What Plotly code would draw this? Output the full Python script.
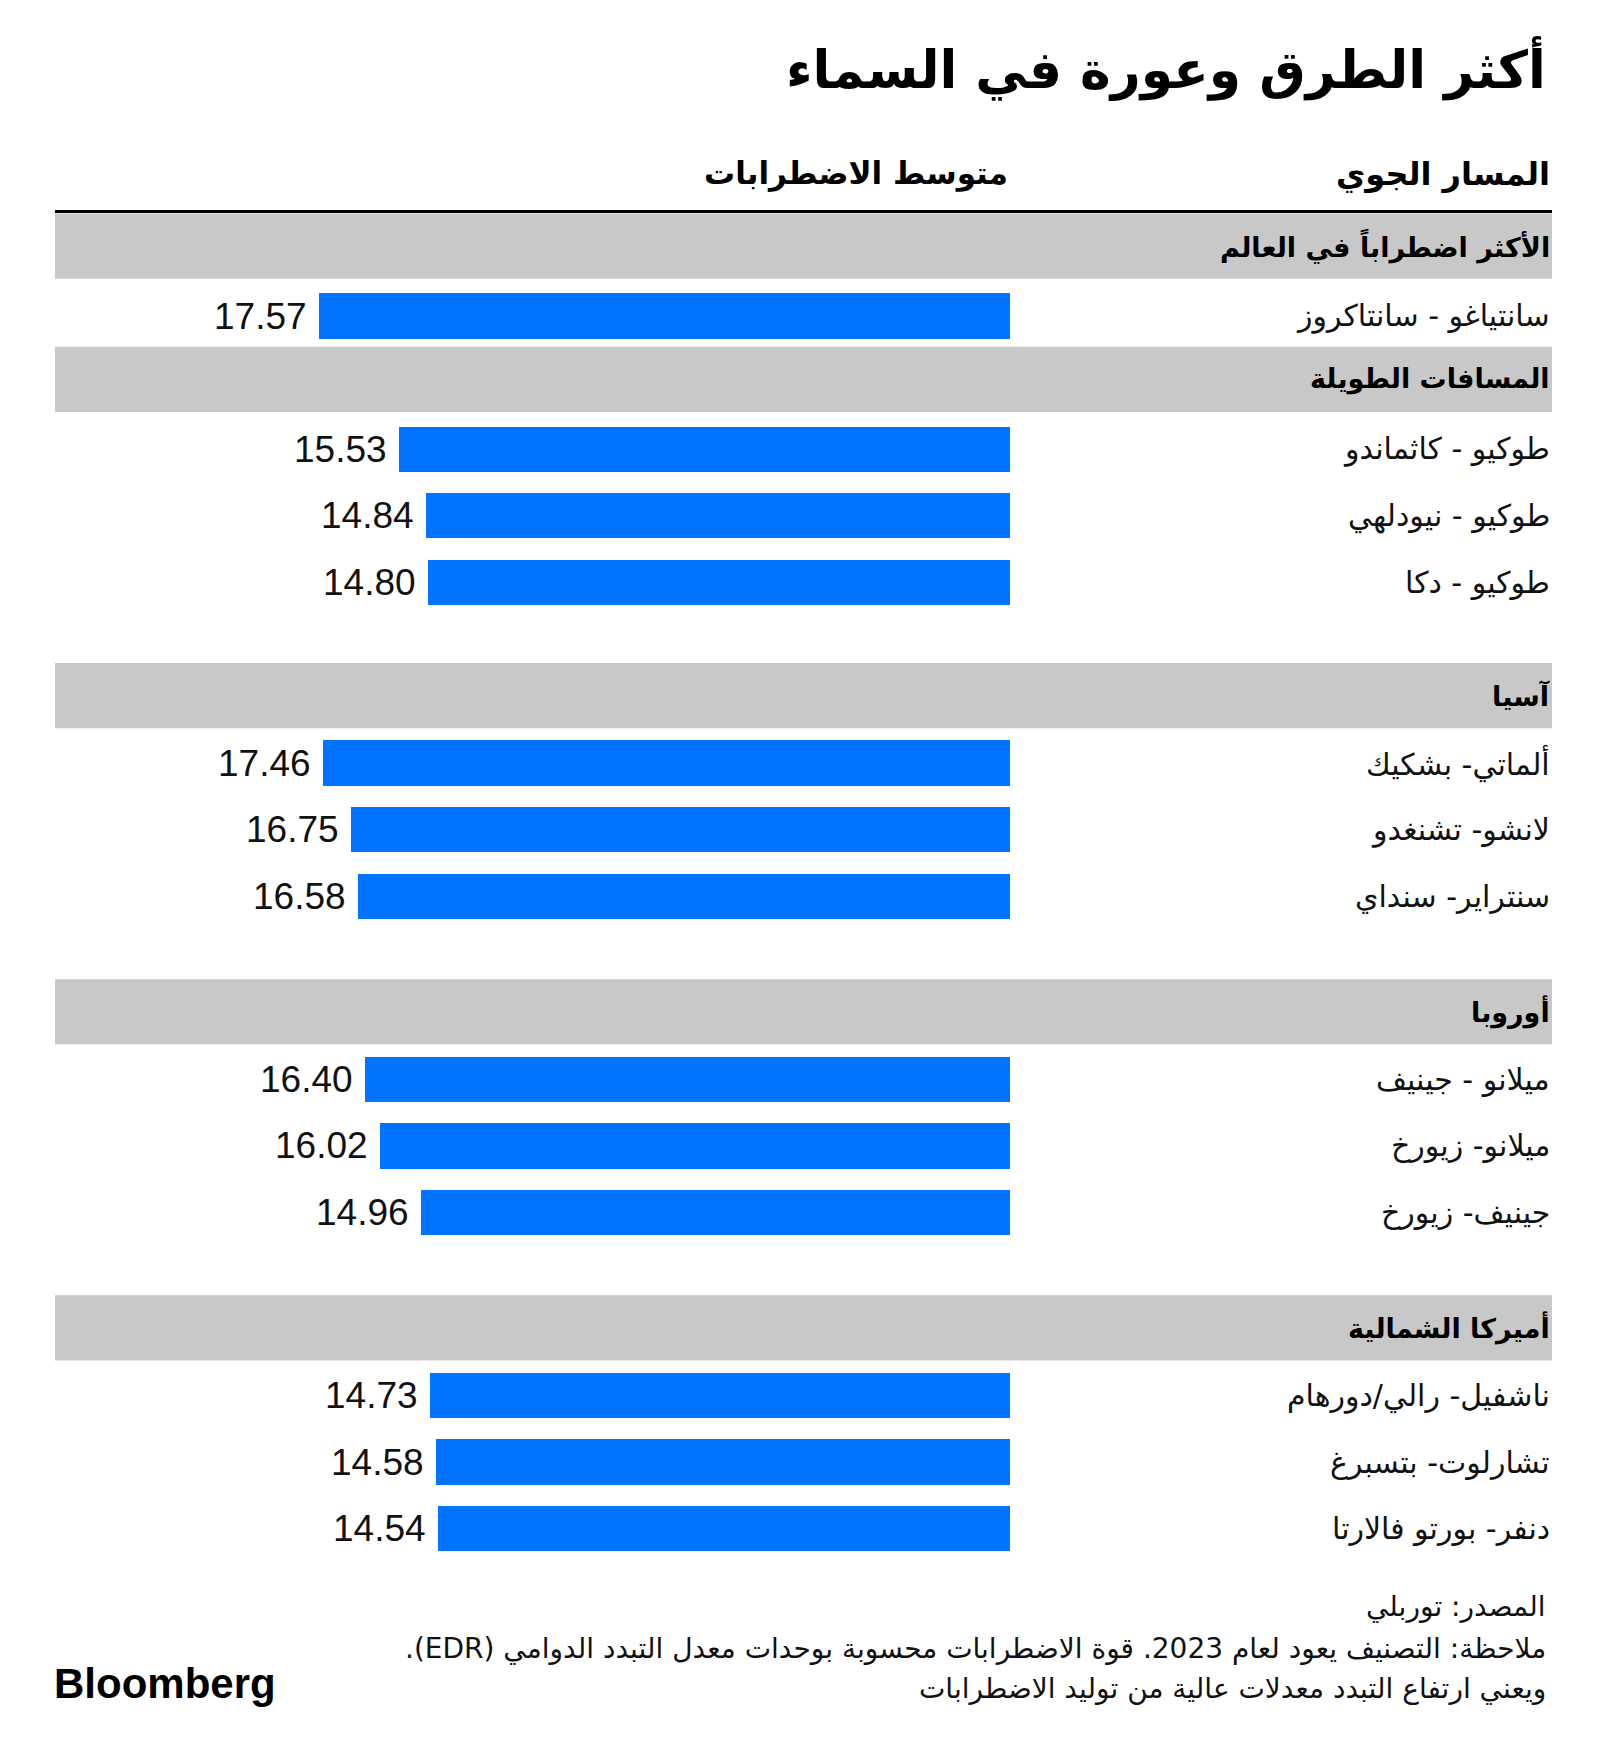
import plotly.graph_objects as go

# ---------------- data ----------------
section_names = ["الأكثر اضطراباً في العالم", "المسافات الطويلة", "آسيا", "أوروبا", "أميركا الشمالية"]
section_routes = [
    ["سانتياغو - سانتاكروز"],
    ["طوكيو - كاثماندو", "طوكيو - نيودلهي", "طوكيو - دكا"],
    ["ألماتي- بشكيك", "لانشو- تشنغدو", "سنتراير- سنداي"],
    ["ميلانو - جينيف", "ميلانو- زيورخ", "جينيف- زيورخ"],
    ["ناشفيل- رالي/دورهام", "تشارلوت- بتسبرغ", "دنفر- بورتو فالارتا"],
]
section_values = [
    [17.57],
    [15.53, 14.84, 14.80],
    [17.46, 16.75, 16.58],
    [16.40, 16.02, 14.96],
    [14.73, 14.58, 14.54],
]
title_text = "أكثر الطرق وعورة في السماء"
col_route = "المسار الجوي"
col_value = "متوسط الاضطرابات"
source_text = "المصدر: توربلي"
note_lines = ["ملاحظة: التصنيف يعود لعام 2023. قوة الاضطرابات محسوبة بوحدات معدل التبدد الدوامي (EDR).",
              "ويعني ارتفاع التبدد معدلات عالية من توليد الاضطرابات"]

# ---------------- layout helpers ----------------
W, H = 1600, 1763
BLUE = "#0073FF"
GREY = "#C8C8C8"
AR_FONT = "DejaVu Sans, Noto Sans, sans-serif"
NUM_FONT = "Liberation Sans, Arial, sans-serif"


def rtl(s):
    # force right-to-left paragraph direction inside the SVG text
    return "\u202B" + s + "\u202C"


# slot positions (y axis in "row" units, reversed)
band_pos, row_pos, row_lab, row_val = [], [], [], []
pos = 0.0
for i, (name, routes, vals) in enumerate(zip(section_names, section_routes, section_values)):
    if i >= 2:
        pos += 0.75  # extra spacing between regional groups
    band_pos.append(pos)
    pos += 1
    shift = 0.05 if i < 2 else 0.015
    for r, v in zip(routes, vals):
        row_pos.append(pos + shift)
        row_lab.append(r)
        row_val.append(v)
        pos += 1

pitch_px = 66.57
pos0_px = 246.2
y_top = -pos0_px / pitch_px
y_bot = (H - pos0_px) / pitch_px

x_right_px = 1010
x_left_px = 55
x_label_px = 1552
px_per_unit = 39.35
x_max = (x_right_px - x_left_px) / px_per_unit

fig = go.Figure()
fig.add_trace(go.Bar(
    x=row_val, y=row_pos, orientation="h",
    marker=dict(color=BLUE, line=dict(width=0)),
    width=0.68, hoverinfo="skip", showlegend=False,
))

# value labels
for v, p in zip(row_val, row_pos):
    fig.add_annotation(x=v, y=p, xref="x", yref="y", text=f"{v:.2f}",
                       xanchor="right", yanchor="middle", xshift=-10, showarrow=False,
                       font=dict(family=NUM_FONT, size=37, color="#111111"))

# route labels
for lab, p in zip(row_lab, row_pos):
    fig.add_annotation(x=x_label_px / W, y=p, xref="paper", yref="y", text=rtl(lab),
                       xanchor="right", yanchor="middle", showarrow=False,
                       font=dict(family=AR_FONT, size=30, color="#111111"))

# section bands and headers
shapes = []
for name, p in zip(section_names, band_pos):
    shapes.append(dict(type="rect", xref="paper", yref="y", x0=x_left_px / W, x1=x_label_px / W,
                       y0=p - 0.49, y1=p + 0.49, fillcolor=GREY, line=dict(width=0), layer="below"))
    fig.add_annotation(x=x_label_px / W, y=p, xref="paper", yref="y", text=f"<b>{rtl(name)}</b>",
                       xanchor="right", yanchor="middle", showarrow=False,
                       font=dict(family=AR_FONT, size=27, color="#000000"))

# black header rule
shapes.append(dict(type="line", xref="paper", yref="paper", x0=x_left_px / W, x1=x_label_px / W,
                   y0=1 - 211.5 / H, y1=1 - 211.5 / H, line=dict(color="#000000", width=3)))

# title and column headers
fig.add_annotation(x=1548 / W, y=1 - 68 / H, xref="paper", yref="paper", text=f"<b>{rtl(title_text)}</b>",
                   xanchor="right", yanchor="middle", showarrow=False,
                   font=dict(family=AR_FONT, size=52, color="#000000"))
fig.add_annotation(x=x_label_px / W, y=1 - 174 / H, xref="paper", yref="paper", text=f"<b>{rtl(col_route)}</b>",
                   xanchor="right", yanchor="middle", showarrow=False,
                   font=dict(family=AR_FONT, size=32, color="#000000"))
fig.add_annotation(x=x_right_px / W, y=1 - 174 / H, xref="paper", yref="paper", text=f"<b>{rtl(col_value)}</b>",
                   xanchor="right", yanchor="middle", showarrow=False,
                   font=dict(family=AR_FONT, size=31, color="#000000"))

# footer
fig.add_annotation(x=1548 / W, y=1 - 1606 / H, xref="paper", yref="paper", text=rtl(source_text),
                   xanchor="right", yanchor="middle", showarrow=False,
                   font=dict(family=AR_FONT, size=28, color="#111111"))
for k, line in enumerate(note_lines):
    fig.add_annotation(x=1548 / W, y=1 - (1648 + 40 * k) / H, xref="paper", yref="paper", text=rtl(line),
                       xanchor="right", yanchor="middle", showarrow=False,
                       font=dict(family=AR_FONT, size=28, color="#111111"))
fig.add_annotation(x=52 / W, y=1 - 1683 / H, xref="paper", yref="paper", text="<b>Bloomberg</b>",
                   xanchor="left", yanchor="middle", showarrow=False,
                   font=dict(family=NUM_FONT, size=42, color="#000000"))

fig.update_layout(
    width=W, height=H,
    margin=dict(l=0, r=0, t=0, b=0),
    paper_bgcolor="white", plot_bgcolor="white",
    shapes=shapes,
    bargap=0,
    xaxis=dict(domain=[x_left_px / W, x_right_px / W], range=[x_max, 0], visible=False, fixedrange=True),
    yaxis=dict(domain=[0, 1], range=[y_bot, y_top], visible=False, fixedrange=True),
)

fig.write_html("out.html")
